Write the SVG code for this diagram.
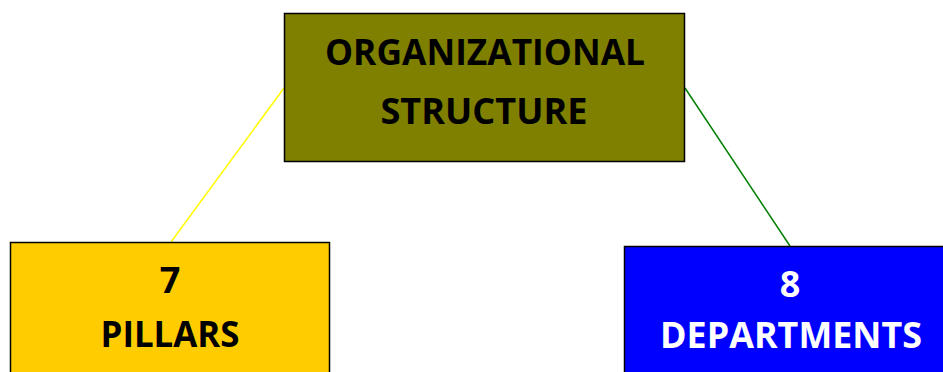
<svg xmlns="http://www.w3.org/2000/svg" width="943" height="372" viewBox="0 0 943 372">
<style>
.box{stroke:#000;stroke-width:1.5}
.t{font-family:"Open Sans","Liberation Sans",sans-serif;font-weight:bold;font-size:36px;text-anchor:middle}
</style>
<rect width="943" height="372" fill="#fff"/>
<g id="connectors" fill="none" stroke-width="1.5">
<line x1="284" y1="88" x2="171" y2="242" stroke="#FFFF00"/>
<line x1="685" y1="88" x2="790" y2="246" stroke="#008000"/>
</g>
<g id="org">
<rect class="box" x="284.5" y="13.5" width="400" height="148" fill="#808000"/>
<text class="t" x="485" y="65" textLength="320" lengthAdjust="spacingAndGlyphs">ORGANIZATIONAL</text>
<text class="t" x="484" y="124" textLength="207" lengthAdjust="spacingAndGlyphs">STRUCTURE</text>
</g>
<g id="pillars">
<rect class="box" x="10.5" y="242.5" width="319" height="140" fill="#FFCC00"/>
<text class="t" x="170" y="293">7</text>
<text class="t" x="170" y="347" textLength="139" lengthAdjust="spacingAndGlyphs">PILLARS</text>
</g>
<g id="departments">
<rect class="box" x="624.5" y="246.5" width="340" height="140" fill="#0000FF"/>
<text class="t" x="790" y="297" fill="#fff">8</text>
<text class="t" x="791" y="348" fill="#fff" textLength="262" lengthAdjust="spacingAndGlyphs">DEPARTMENTS</text>
</g>
</svg>
